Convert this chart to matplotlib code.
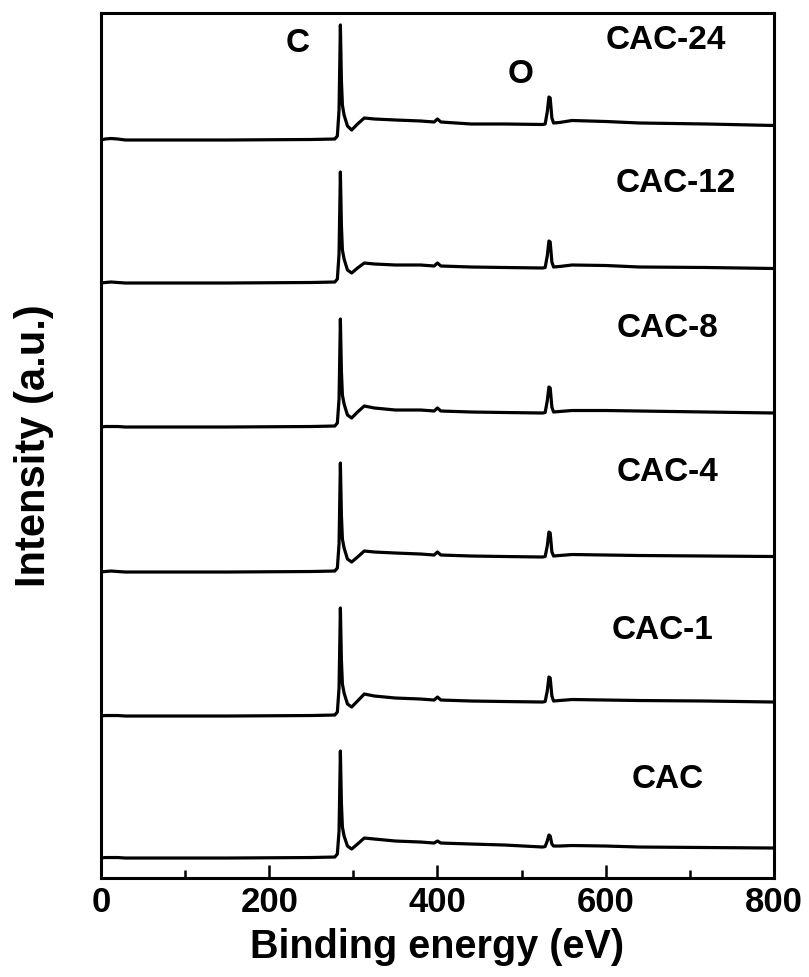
import numpy as np
import matplotlib
matplotlib.use("Agg")
import matplotlib.pyplot as plt
from matplotlib.ticker import MultipleLocator

plt.rcParams['font.family'] = ['Liberation Sans', 'DejaVu Sans']
plt.rcParams['font.weight'] = 'bold'

# XPS survey spectra, binding energy grid (eV)
energy = [0, 5, 12, 20, 29, 60, 150, 250, 278, 281, 283, 284.6, 285.8, 287, 289,
          293, 298, 305, 313, 325, 350, 380, 396, 400, 404, 440, 480, 525, 528,
          530.5, 532.5, 534, 536, 538, 545, 560, 600, 640, 720, 800]

# intensity of each sample above its own baseline (a.u.)
cac = [0, 0.5, 0.5, 0.5, 0, 0, 0, 0.5, 1, 4, 27, 107, 55, 31, 22, 12, 9, 14, 20, 19,
       17, 16, 15, 17, 15, 14, 13, 11, 11.5, 17, 23, 22, 14, 12, 12, 12.5, 12, 11, 10.5, 10]
cac_1 = [0, 0.5, 0.5, 0.5, 0, 0, 0, 0.5, 1, 4, 28, 108, 56, 32, 23, 12, 9, 15, 22, 20,
         18, 17, 16, 19, 16, 15, 14.5, 14, 14.5, 25, 39, 38, 20, 15, 15.5, 16.5, 16, 15.5, 15, 14]
cac_4 = [0, 0.5, 1, 0.5, 0, 0, 0, 0.5, 1, 4, 28, 109, 57, 33, 24, 13, 10, 15, 21, 20,
         19, 18, 17, 20, 17, 16, 15.5, 15, 15.5, 26, 40, 39, 20, 16, 16.5, 17.5, 17, 16.5, 16, 15.5]
cac_8 = [0, 0.5, 0.5, 0.5, 0, 0, 0, 0.5, 1, 4, 28, 108, 56, 32, 23, 12, 9, 15, 21, 19,
         17, 17, 16, 19, 16, 15, 14.5, 14, 14.5, 26, 40, 39, 20, 15, 15.5, 16.5, 16.5, 16, 15, 14]
cac_12 = [0, 0.5, 1, 0.5, 0, 0, 0, 0.5, 1, 4, 29, 111, 58, 33, 24, 13, 10, 15, 20, 19,
          18, 18, 17, 20, 17, 16, 15.5, 15, 15.5, 27, 42, 41, 21, 16, 16.5, 18, 17.5, 16, 15.5, 14.5]
cac_24 = [0, 1, 1.5, 1, 0, 0, 0, 0.5, 1, 4, 30, 115, 60, 35, 25, 14, 10, 16, 22, 21,
          20, 19, 18, 21, 18, 16, 16, 15.5, 16, 28, 43, 42, 22, 17, 17.5, 19.5, 18.5, 17, 16, 14.5]

samples = ['CAC', 'CAC-1', 'CAC-4', 'CAC-8', 'CAC-12', 'CAC-24']
spectra = [cac, cac_1, cac_4, cac_8, cac_12, cac_24]
offsets = [20, 162, 306, 451, 595, 738]
# label positions (eV, a.u.)
label_x = [674, 668, 674, 674, 683, 672]
label_y = [99, 248, 406, 550, 695, 837]

fig = plt.figure(figsize=(8.09, 9.77), dpi=100)
ax = fig.add_axes([0.1248, 0.1013, 0.8319, 0.8854])

for name, spec, off, lx, ly in zip(samples, spectra, offsets, label_x, label_y):
    ax.plot(energy, np.array(spec) + off, color='black', lw=2.3)
    ax.text(lx, ly, name, fontsize=24, fontweight='bold', ha='center', va='center')

ax.text(234, 834, 'C', fontsize=24, fontweight='bold', ha='center', va='center')
ax.text(499, 803, 'O', fontsize=24, fontweight='bold', ha='center', va='center')

ax.set_xlim(0, 800)
ax.set_ylim(0, 865)
ax.set_yticks([])
ax.xaxis.set_major_locator(MultipleLocator(200))
ax.xaxis.set_minor_locator(MultipleLocator(100))
ax.tick_params(axis='x', which='major', direction='in', length=9.5, width=1.8,
               labelsize=25, pad=6)
ax.tick_params(axis='x', which='minor', direction='in', length=5.5, width=1.8)
for s in ax.spines.values():
    s.set_linewidth(2.2)

ax.set_xlabel('Binding energy (eV)', fontsize=28.5, fontweight='bold', labelpad=6)
ax.set_ylabel('Intensity (a.u.)', fontsize=30, fontweight='bold', labelpad=34)

fig.savefig('out.png', dpi=100)
